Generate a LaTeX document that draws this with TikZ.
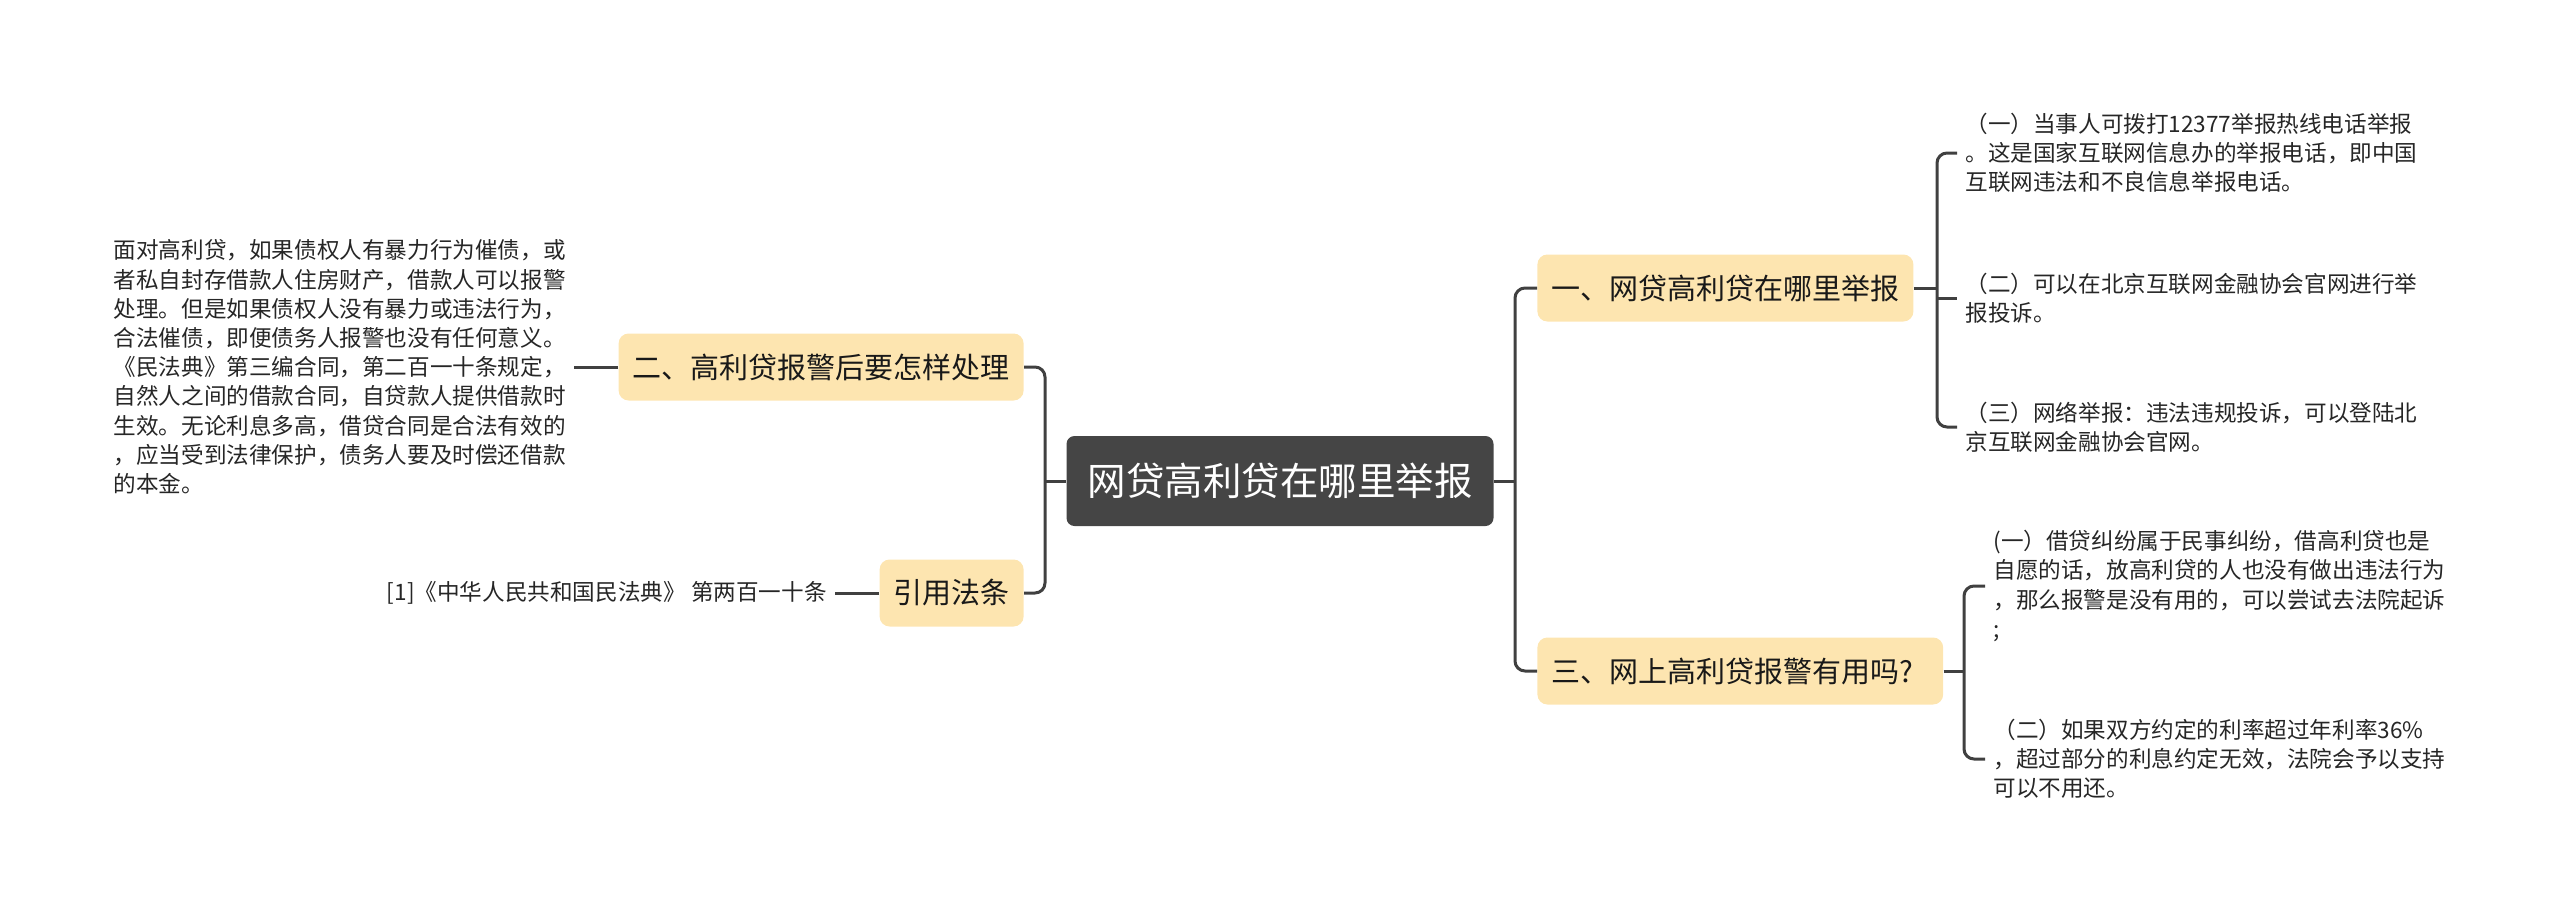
\documentclass[tikz,border=0pt]{standalone}
\usepackage{fontspec}
\setmainfont{Noto Sans CJK SC}
\definecolor{rootgray}{HTML}{454545}
\definecolor{topicpeach}{HTML}{FDE5B0}
\definecolor{linegray}{HTML}{404040}

\begin{document}
\begin{tikzpicture}[x=0.5pt,y=-0.5pt,
    rootbox/.style={fill=rootgray,text=white,rounded corners=4pt,minimum height=45pt,inner xsep=10.5pt,font=\fontsize{19.25pt}{23pt}\selectfont},
    topicbox/.style={fill=topicpeach,text=black!90,rounded corners=5pt,minimum height=33.5pt,inner xsep=7pt,font=\fontsize{14.5pt}{17pt}\selectfont},
    leaftext/.style={align=left,inner xsep=4pt,inner ysep=1pt,text=black!85,font=\fontsize{11.3pt}{14.6pt}\selectfont},
    conn/.style={draw=linegray,line width=1.5pt,rounded corners=5pt}]
    \useasboundingbox (0,0) rectangle (2560,911);
    % centre and main topics
    \node[rootbox] (root) at (1280,481) {网贷高利贷在哪里举报};
    \node[topicbox,anchor=east] (t2) at (1024,367) {二、高利贷报警后要怎样处理};
    \node[topicbox,anchor=east] (law) at (1024,593) {引用法条};
    \node[topicbox,anchor=west] (t1) at (1537,288) {一、网贷高利贷在哪里举报};
    \node[topicbox,anchor=west] (t3) at (1537,671) {三、网上高利贷报警有用吗?\kern8pt};
    % left leaves
    \node[leaftext,anchor=east] (t2txt) at (574,367) {面对高利贷，如果债权人有暴力行为催债，或\\者私自封存借款人住房财产，借款人可以报警\\处理。但是如果债权人没有暴力或违法行为，\\合法催债，即便债务人报警也没有任何意义。\\《民法典》第三编合同，第二百一十条规定，\\自然人之间的借款合同，自贷款人提供借款时\\生效。无论利息多高，借贷合同是合法有效的\\，应当受到法律保护，债务人要及时偿还借款\\的本金。};
    \node[leaftext,anchor=east] (lawtxt) at (835,593) {[1]《中华人民共和国民法典》 第两百一十条};
    % right leaves
    \node[leaftext,anchor=west] (t1a) at (1957,153) {（一）当事人可拨打12377举报热线电话举报\\。这是国家互联网信息办的举报电话，即中国\\互联网违法和不良信息举报电话。};
    \node[leaftext,anchor=west] (t1b) at (1957,298) {（二）可以在北京互联网金融协会官网进行举\\报投诉。};
    \node[leaftext,anchor=west] (t1c) at (1957,427) {（三）网络举报：违法违规投诉，可以登陆北\\京互联网金融协会官网。};
    \node[leaftext,anchor=west] (t3a) at (1985,586) {(一）借贷纠纷属于民事纠纷，借高利贷也是\\自愿的话，放高利贷的人也没有做出违法行为\\，那么报警是没有用的，可以尝试去法院起诉\\;};
    \node[leaftext,anchor=west] (t3b) at (1985,759) {（二）如果双方约定的利率超过年利率36\%\\，超过部分的利息约定无效，法院会予以支持\\可以不用还。};
    % connectors
    \coordinate (sL) at (1045,481);
    \coordinate (sR) at (1515,481);
    \draw[conn] (root.west) -- (sL);
    \draw[conn] (t2.east) -| (sL) |- (law.east);
    \draw[conn] (root.east) -- (sR);
    \draw[conn] (t1.west) -| (sR) |- (t3.west);
    \draw[conn] (t2.west) -- (t2txt.east);
    \draw[conn] (law.west) -- (lawtxt.east);
    \coordinate (s1) at (1937,288);
    \draw[conn] (t1.east) -- (s1);
    \draw[conn] (t1a.west) -| (s1) |- (t1c.west);
    \draw[conn] (s1 |- t1b.west) -- (t1b.west);
    \coordinate (s3) at (1964,671);
    \draw[conn] (t3.east) -- (s3);
    \draw[conn] (t3a.west) -| (s3) |- (t3b.west);
\end{tikzpicture}
\end{document}
